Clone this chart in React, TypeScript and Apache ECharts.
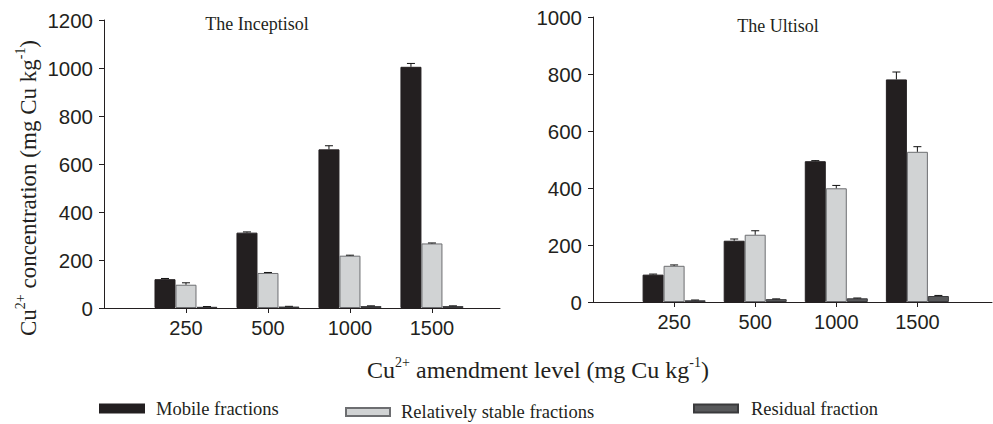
import React, { useEffect, useRef } from 'react';
import * as echarts from 'echarts';

const levels = ['250', '500', '1000', '1500'];
const seriesNames = ['Mobile fractions', 'Relatively stable fractions', 'Residual fraction'];

const incMobile = [120, 314, 661, 1005];
const incMobileErr = [3, 3, 15, 14];
const incStable = [97, 146, 218, 269];
const incStableErr = [8, 2, 2, 2];
const incResidual = [5, 6, 8, 8];
const incResidualErr = [1, 1, 1, 1];

const ultMobile = [96, 215, 494, 781];
const ultMobileErr = [2, 6, 2, 26];
const ultStable = [127, 236, 399, 527];
const ultStableErr = [3, 14, 10, 18];
const ultResidual = [6, 10, 13, 21];
const ultResidualErr = [1, 1, 1, 2];

const colors = ['#231f20', '#d1d3d4', '#58595b'];
const borders = ['#231f20', '#6d6e71', '#3a3a3c'];
const BAR_W = 21;
const INK = '#231f20';
const SANS = 'Liberation Sans, Arial, sans-serif';
const SERIF = 'Liberation Serif, Times New Roman, serif';

export default function App() {
  const ref = useRef<HTMLDivElement>(null);
  useEffect(() => {
    const chart = echarts.init(ref.current!, undefined, { renderer: 'svg' });
    const panels = [
      { vals: [incMobile, incStable, incResidual], errs: [incMobileErr, incStableErr, incResidualErr] },
      { vals: [ultMobile, ultStable, ultResidual], errs: [ultMobileErr, ultStableErr, ultResidualErr] },
    ];
    const series: any[] = [];
    panels.forEach((p, g) => {
      p.vals.forEach((arr, k) => {
        series.push({
          type: 'bar',
          name: seriesNames[k],
          xAxisIndex: g,
          yAxisIndex: g,
          barWidth: BAR_W,
          barGap: '0%',
          itemStyle: { color: colors[k], borderColor: borders[k], borderWidth: 1 },
          data: arr.map((v, i) => [i + 1, v]),
        });
      });
      const errData: number[][] = [];
      p.vals.forEach((arr, k) => arr.forEach((v, i) => errData.push([i + 1, v, p.errs[k][i], k])));
      series.push({
        type: 'custom',
        xAxisIndex: g,
        yAxisIndex: g,
        z: 10,
        silent: true,
        data: errData,
        renderItem: (params: any, api: any) => {
          const x = api.value(0), y = api.value(1), e = api.value(2), k = api.value(3);
          const p0 = api.coord([x, y]);
          const p1 = api.coord([x, y + e]);
          const cx = p0[0] + (k - 1) * BAR_W;
          const st = { stroke: '#111', lineWidth: 1 };
          return {
            type: 'group',
            children: [
              { type: 'line', shape: { x1: cx, y1: p0[1], x2: cx, y2: p1[1] }, style: st },
              { type: 'line', shape: { x1: cx - 4, y1: p1[1], x2: cx + 4, y2: p1[1] }, style: st },
            ],
          };
        },
      });
    });

    const axisLine = { lineStyle: { color: INK, width: 1 } };
    const mkX = (idx: number, max: number) => ({
      type: 'value',
      gridIndex: idx,
      min: 0,
      max,
      interval: 1,
      axisLine: { show: true, onZero: false, ...axisLine },
      axisTick: { show: true, length: 5, customValues: [1, 2, 3, 4], lineStyle: { color: INK } },
      axisLabel: {
        customValues: [1, 2, 3, 4],
        formatter: (v: number) => levels[v - 1] ?? '',
        fontFamily: SANS,
        fontSize: 20,
        color: INK,
        margin: 10,
      },
      splitLine: { show: false },
    });
    const mkY = (idx: number, max: number) => ({
      type: 'value',
      gridIndex: idx,
      min: 0,
      max,
      interval: 200,
      axisLine: { show: true, ...axisLine },
      axisTick: { show: true, length: 5, lineStyle: { color: INK } },
      axisLabel: { fontFamily: SANS, fontSize: 20.5, color: INK, margin: 11, formatter: (v: number) => String(v) },
      splitLine: { show: false },
    });

    const sup = { fontFamily: SERIF, fontSize: 14, padding: [0, 0, 15, 0], fill: INK };
    const baseY = { fontFamily: SERIF, fontSize: 23, fill: INK };
    const baseX = { fontFamily: SERIF, fontSize: 24, fill: INK };

    const legLeft = [99, 345, 693];
    const legTop = [399, 402.5, 399];
    const legPad = [7, 6, 8];

    chart.setOption({
      animation: false,
      grid: [
        { left: 104, top: 20, right: 493, bottom: 116 },
        { left: 593, top: 17, right: 1, bottom: 122 },
      ],
      xAxis: [mkX(0, 4.83), mkX(1, 4.92)],
      yAxis: [mkY(0, 1200), mkY(1, 1000)],
      legend: seriesNames.map((n, i) => ({
        data: [n],
        left: legLeft[i],
        top: legTop[i],
        padding: 0,
        icon: 'rect',
        itemWidth: 44,
        itemHeight: 8,
        selectedMode: false,
        textStyle: { fontFamily: SERIF, fontSize: 18.5, color: INK, padding: [0, 0, 0, legPad[i]] },
      })),
      graphic: [
        { type: 'text', x: 257, y: 24, style: { text: 'The Inceptisol', fontFamily: SERIF, fontSize: 18, fill: INK, align: 'center', verticalAlign: 'middle' } },
        { type: 'text', x: 778, y: 26, style: { text: 'The Ultisol', fontFamily: SERIF, fontSize: 18, fill: INK, align: 'center', verticalAlign: 'middle' } },
        {
          type: 'text', x: 28, y: 188, rotation: Math.PI / 2,
          style: {
            text: '{b|Cu}{s|2+}{b| concentration (mg Cu kg}{s|-1}{b|)}',
            align: 'center', verticalAlign: 'middle',
            rich: { b: baseY, s: sup },
          },
        },
        {
          type: 'text', x: 538, y: 370,
          style: {
            text: '{b|Cu}{s|2+}{b| amendment level (mg Cu kg}{s|-1}{b|)}',
            align: 'center', verticalAlign: 'middle',
            rich: { b: baseX, s: sup },
          },
        },
      ],
      series,
    });
    return () => chart.dispose();
  }, []);
  return <div ref={ref} style={{ width: 993, height: 424, position: 'absolute', left: 0, top: 0 }} />;
}
